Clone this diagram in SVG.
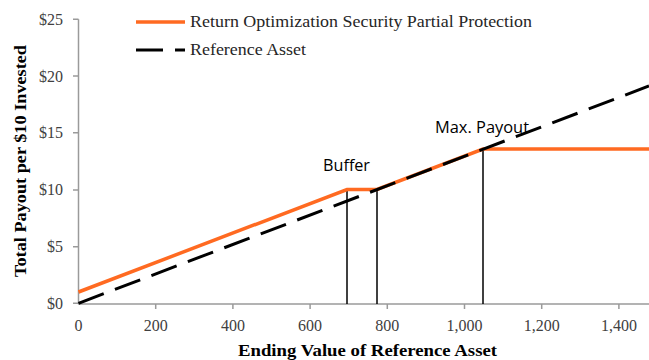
<svg xmlns="http://www.w3.org/2000/svg" width="649" height="360" viewBox="0 0 649 360">
<style>
.tick{font-family:"Liberation Serif",serif;font-size:16px;fill:#404040}
.title{font-family:"Liberation Serif",serif;font-size:17px;font-weight:bold;fill:#000}
.leg{font-family:"Liberation Serif",serif;font-size:17px;fill:#262626}
.ann{font-family:"Open Sans","Liberation Sans",sans-serif;font-size:15.5px;fill:#000}
.axis{stroke:#9a9a9a;stroke-width:1.5;fill:none}
.orange{stroke:#FF6A21;stroke-width:3.5;fill:none}
.ref{stroke:#000;stroke-width:3;fill:none;stroke-dasharray:27 12}
.vline{stroke:#000;stroke-width:1.5}
</style>
<rect width="649" height="360" fill="#fff"/>
<g id="axes">
<path class="axis" d="M78.5 19.3V304.3M73 19.3H78.5M73 76H78.5M73 132.7H78.5M73 190H78.5M73 246.7H78.5M73 303.3H78.5M78.5 304H649M155.7 304V309M232.9 304V309M310.1 304V309M387.3 304V309M464.5 304V309M541.7 304V309M618.9 304V309"/>
</g>
<g id="y-labels" class="tick" text-anchor="end">
<text x="63" y="25">$25</text>
<text x="63" y="82">$20</text>
<text x="63" y="138">$15</text>
<text x="63" y="195">$10</text>
<text x="63" y="252">$5</text>
<text x="63" y="309">$0</text>
</g>
<g id="x-labels" class="tick" text-anchor="middle">
<text x="78.5" y="331">0</text>
<text x="155.7" y="331">200</text>
<text x="232.9" y="331">400</text>
<text x="310.1" y="331">600</text>
<text x="387.3" y="331">800</text>
<text x="464.5" y="331">1,000</text>
<text x="541.7" y="331">1,200</text>
<text x="618.9" y="331">1,400</text>
</g>
<text class="title" x="238" y="356" textLength="259" lengthAdjust="spacingAndGlyphs">Ending Value of Reference Asset</text>
<text class="title" transform="translate(26 277) rotate(-90)" textLength="232" lengthAdjust="spacingAndGlyphs">Total Payout per $10 Invested</text>
<g id="connectors">
<line class="vline" x1="347" y1="304" x2="347" y2="189"/>
<line class="vline" x1="377" y1="304" x2="377" y2="189"/>
<line class="vline" x1="483" y1="304" x2="483" y2="148.5"/>
</g>
<g id="series-orange">
<polyline class="orange" points="78.5,292 347,189.5 377,189.5 483,149 649,149"/>
</g>
<g id="series-ref">
<line class="ref" x1="78.5" y1="303.3" x2="649" y2="86"/>
</g>
<g id="annotations">
<text class="ann" x="323" y="171" textLength="47" lengthAdjust="spacingAndGlyphs">Buffer</text>
<text class="ann" x="435" y="133" textLength="94" lengthAdjust="spacingAndGlyphs">Max. Payout</text>
</g>
<g id="legend">
<line class="orange" x1="136" y1="22" x2="185" y2="22"/>
<text class="leg" x="190" y="27" textLength="342" lengthAdjust="spacingAndGlyphs">Return Optimization Security Partial Protection</text>
<line class="ref" x1="136" y1="50" x2="185" y2="50"/>
<text class="leg" x="190" y="55" textLength="116" lengthAdjust="spacingAndGlyphs">Reference Asset</text>
</g>
</svg>
